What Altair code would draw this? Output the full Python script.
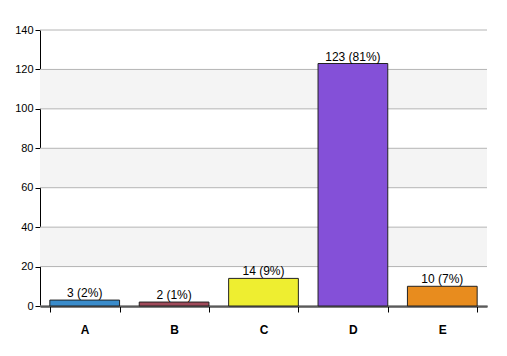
import altair as alt
import pandas as pd

categories = ["A", "B", "C", "D", "E"]
counts = [3, 2, 14, 123, 10]
pcts = ["2%", "1%", "9%", "81%", "7%"]
colors = ["#3a8ccb", "#a04a5a", "#eeee30", "#8450d8", "#e88c1e"]

band_lo = [20, 60, 100]
band_hi = [40, 80, 120]
ytick_values = [0, 20, 40, 60, 80, 100, 120, 140]

df = pd.DataFrame({
    "cat": categories,
    "count": counts,
    "label": [f"{c} ({p})" for c, p in zip(counts, pcts)],
})
bands = pd.DataFrame({"lo": band_lo, "hi": band_hi})
grid = pd.DataFrame({"v": ytick_values})

W, H = 447, 276
FONT = "Liberation Sans"

yscale = alt.Scale(domain=[0, 140], nice=False)
yaxis = alt.Axis(values=ytick_values, labelOverlap=False, grid=False,
                 labelFont=FONT, labelFontSize=11, labelColor="black",
                 tickColor="black", tickSize=5, domainColor="black",
                 labelPadding=2)
xscale = alt.Scale(paddingInner=0.22, paddingOuter=0.11)
xaxis = alt.Axis(labelAngle=0, labelFont=FONT, labelFontSize=12,
                 labelFontWeight="bold", labelColor="black",
                 labelPadding=12, tickBand="extent", tickSize=6,
                 tickColor="black", domainColor="black",
                 domainWidth=2, grid=False)

bg = alt.Chart(bands).mark_rect(color="#f4f4f4").encode(
    x=alt.value(0), x2=alt.value(W),
    y=alt.Y("lo:Q", scale=yscale, axis=yaxis, title=None),
    y2="hi:Q",
)

gridlines = alt.Chart(grid).mark_rule(color="#b4b4b4", strokeWidth=1).encode(
    x=alt.value(0), x2=alt.value(W),
    y=alt.Y("v:Q", scale=yscale, axis=yaxis, title=None),
)

bars = alt.Chart(df).mark_bar(stroke="#222222", strokeWidth=1).encode(
    x=alt.X("cat:N", sort=categories, title=None, scale=xscale, axis=xaxis),
    y=alt.Y("count:Q", scale=yscale, title=None, axis=yaxis),
    color=alt.Color("cat:N", scale=alt.Scale(domain=categories, range=colors),
                    legend=None),
)

text = alt.Chart(df).mark_text(dy=-7, font=FONT, fontSize=12, color="black").encode(
    x=alt.X("cat:N", sort=categories, title=None, scale=xscale, axis=xaxis),
    y=alt.Y("count:Q", scale=yscale, title=None, axis=yaxis),
    text="label:N",
)

chart = alt.layer(bg, gridlines, bars, text).properties(
    width=W, height=H,
    autosize=alt.AutoSizeParams(type="none"),
    padding={"left": 32, "top": 22, "right": 12, "bottom": 34},
).configure(background="white").configure_view(strokeWidth=0)

chart.save("out.html", embed_options={"renderer": "svg", "actions": False})
